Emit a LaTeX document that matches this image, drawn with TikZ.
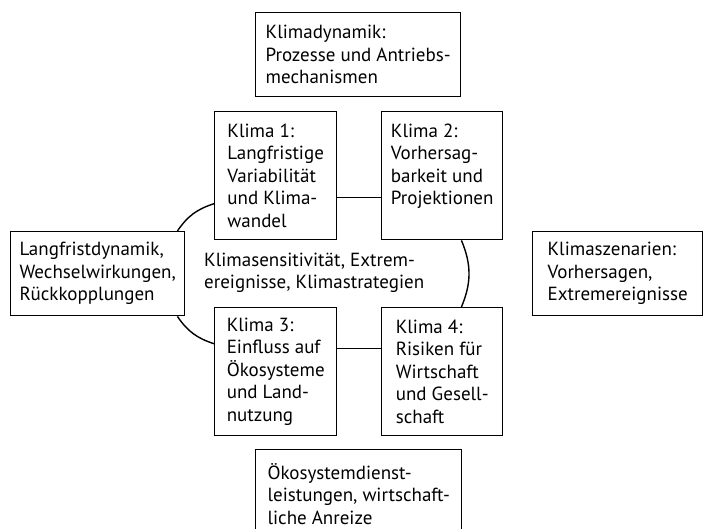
\documentclass[tikz,border=0pt]{standalone}
\usepackage{fontspec}
\setmainfont{PT Sans}

\begin{document}
\begin{tikzpicture}[x=1pt, y=-1pt,
  every node/.style={font=\fontsize{19}{22.5}\selectfont},
  kbox/.style 2 args={rectangle, draw, line width=1.4pt, anchor=north west,
                      align=left, inner sep=0pt, minimum width=#1, minimum height=#2},
  link/.style={line width=1.4pt}
]
\useasboundingbox (0,0) rectangle (703,529);
\clip (0,0) rectangle (703,529);

\node[kbox={205pt}{84pt}] (dyn) at (255,12)
  {Klimadynamik:\\Prozesse und Antriebs-\\mechanismen};

\node[kbox={122pt}{128pt}] (k1) at (214,111)
  {Klima 1:\\Langfristige\\Variabilität\\und Klima-\\wandel};
\node[kbox={121pt}{128pt}] (k2) at (381,111)
  {Klima 2:\\Vorhersag-\\barkeit und\\Projektionen\\\mbox{}};
\node[kbox={122pt}{128pt}] (k3) at (214,307)
  {Klima 3:\\Einfluss auf\\Ökosysteme\\und Land-\\nutzung};
\node[kbox={121pt}{128pt}] (k4) at (381,307)
  {Klima 4:\\Risiken für\\Wirtschaft\\und Gesell-\\schaft};

\node[kbox={174pt}{84pt}] (lang) at (10,231)
  {Langfristdynamik,\\Wechselwirkungen,\\Rückkopplungen};
\node[kbox={170pt}{84pt}] (szen) at (532,231)
  {Klimaszenarien:\\Vorhersagen,\\Extremereignisse};
\node[kbox={206pt}{88pt}] (oeko) at (255,449)
  {Ökosystemdienst-\\leistungen, wirtschaft-\\liche Anreize};

\node[anchor=west, align=left, inner sep=0pt] (sens) at (204,273)
  {Klimasensitivität, Extrem-\\ereignisse, Klimastrategien};

\draw[link] ([yshift=-22pt]k1.east) -- ([yshift=-22pt]k2.west);
\draw[link] ([yshift=23pt]k3.east) -- ([yshift=23pt]k4.west);
\draw[link] ([yshift=-28pt]k1.west) to[bend right=19] ([xshift=-8pt]lang.north east);
\draw[link] ([xshift=-8pt]lang.south east) to[bend right=19] ([yshift=28pt]k3.west);
\draw[link] ([xshift=-42pt]k2.south east) to[bend left=23] ([xshift=-42pt]k4.north east);
\end{tikzpicture}
\end{document}
